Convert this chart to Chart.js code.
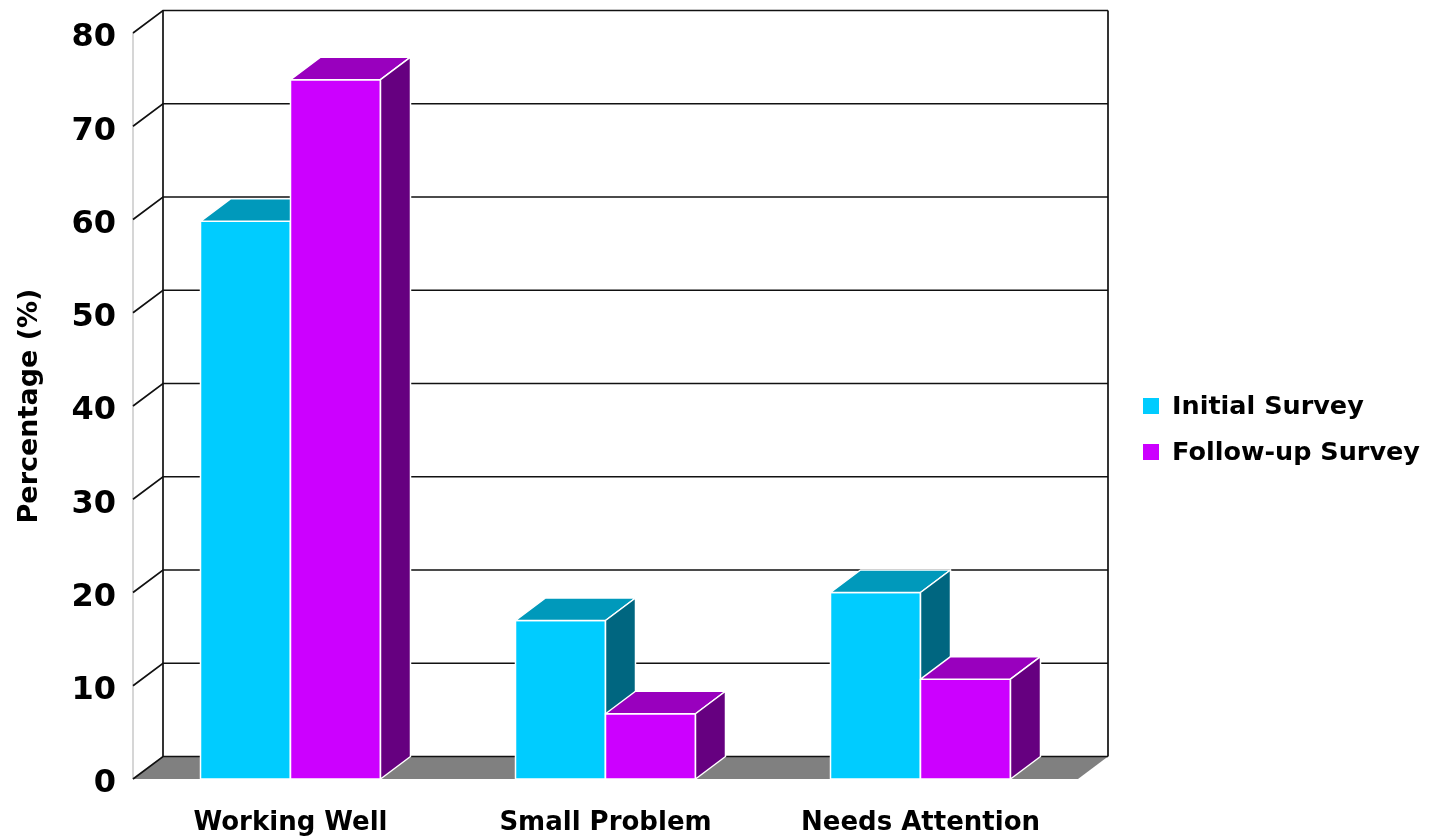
<!DOCTYPE html>
<html>
<head>
<meta charset="utf-8">
<script src="https://cdn.jsdelivr.net/npm/chart.js@4/dist/chart.umd.min.js"></script>
<style>
html,body{margin:0;padding:0;background:#ffffff;}
#wrap{width:1448px;height:838px;position:relative;}
</style>
</head>
<body>
<div id="wrap"><canvas id="c"></canvas></div>
<script>
// ---- data ----
const categories = ['Working Well', 'Small Problem', 'Needs Attention'];
const initialSurvey = [59.8, 17, 20];
const followUpSurvey = [75, 7, 10.7];
const seriesNames = ['Initial Survey', 'Follow-up Survey'];
const yMin = 0, yMax = 80, yStep = 10;
const yTitle = 'Percentage (%)';

// ---- styles ----
const DX = 30, DY = 22.5;
const FONT = '"DejaVu Sans", "Liberation Sans", sans-serif';
const frontColors = ['#00CCFF', '#CC00FF'];
const topColors = ['#0099BB', '#9900BE'];
const sideColors = ['#006680', '#660080'];

const threeD = {
  id: 'threeD',
  beforeDatasetsDraw(chart) {
    const ctx = chart.ctx;
    const {left, right, bottom} = chart.chartArea;
    const y = chart.scales.y;
    const topF = y.getPixelForValue(yMax);
    ctx.save();
    // floor
    ctx.fillStyle = '#808080';
    ctx.beginPath();
    ctx.moveTo(left, bottom);
    ctx.lineTo(right, bottom);
    ctx.lineTo(right + DX, bottom - DY);
    ctx.lineTo(left + DX, bottom - DY);
    ctx.closePath();
    ctx.fill();
    // front-left edge (light gray)
    ctx.strokeStyle = '#c8c8c8';
    ctx.lineWidth = 1.5;
    ctx.beginPath();
    ctx.moveTo(left, topF);
    ctx.lineTo(left, bottom);
    ctx.stroke();
    // gridlines on left wall and back wall
    ctx.strokeStyle = '#111111';
    ctx.lineWidth = 1.7;
    for (let v = yMin; v <= yMax; v += yStep) {
      const yf = y.getPixelForValue(v);
      ctx.beginPath();
      ctx.moveTo(left, yf);
      ctx.lineTo(left + DX, yf - DY);
      ctx.lineTo(right + DX, yf - DY);
      ctx.stroke();
    }
    // back wall verticals
    ctx.beginPath();
    ctx.moveTo(left + DX, topF - DY);
    ctx.lineTo(left + DX, bottom - DY);
    ctx.moveTo(right + DX, topF - DY);
    ctx.lineTo(right + DX, bottom - DY);
    ctx.stroke();
    ctx.restore();
  },
  afterDatasetsDraw(chart) {
    const ctx = chart.ctx;
    const metas = [chart.getDatasetMeta(0), chart.getDatasetMeta(1)];
    ctx.save();
    ctx.strokeStyle = '#ffffff';
    ctx.lineWidth = 1.5;
    ctx.lineJoin = 'round';
    for (let i = 0; i < categories.length; i++) {
      for (let d = 0; d < metas.length; d++) {
        const bar = metas[d].data[i];
        const p = bar.getProps(['x', 'y', 'base', 'width'], true);
        const x1 = p.x - p.width / 2, x2 = p.x + p.width / 2;
        const yt = p.y, yb = p.base;
        // front
        ctx.fillStyle = frontColors[d];
        ctx.beginPath();
        ctx.rect(x1, yt, x2 - x1, yb - yt);
        ctx.fill();
        ctx.stroke();
        // top
        ctx.fillStyle = topColors[d];
        ctx.beginPath();
        ctx.moveTo(x1, yt);
        ctx.lineTo(x2, yt);
        ctx.lineTo(x2 + DX, yt - DY);
        ctx.lineTo(x1 + DX, yt - DY);
        ctx.closePath();
        ctx.fill();
        ctx.stroke();
        // side
        ctx.fillStyle = sideColors[d];
        ctx.beginPath();
        ctx.moveTo(x2, yt);
        ctx.lineTo(x2 + DX, yt - DY);
        ctx.lineTo(x2 + DX, yb - DY);
        ctx.lineTo(x2, yb);
        ctx.closePath();
        ctx.fill();
        ctx.stroke();
      }
    }
    ctx.restore();
  },
  afterDraw(chart) {
    // legend
    const ctx = chart.ctx;
    ctx.save();
    ctx.font = 'bold 25.5px ' + FONT;
    ctx.textBaseline = 'middle';
    ctx.textAlign = 'left';
    const rows = [406, 452];
    for (let d = 0; d < seriesNames.length; d++) {
      ctx.fillStyle = frontColors[d];
      ctx.fillRect(1143, rows[d] - 8, 16, 16);
      ctx.fillStyle = '#000000';
      ctx.fillText(seriesNames[d], 1172, rows[d] + 1);
    }
    ctx.restore();
  }
};

new Chart(document.getElementById('c'), {
  type: 'bar',
  data: {
    labels: categories,
    datasets: [
      {label: seriesNames[0], data: initialSurvey, backgroundColor: frontColors[0], borderWidth: 0},
      {label: seriesNames[1], data: followUpSurvey, backgroundColor: frontColors[1], borderWidth: 0}
    ]
  },
  options: {
    responsive: true,
    maintainAspectRatio: false,
    animation: false,
    events: [],
    layout: {padding: {left: 0, top: 33, right: 370, bottom: 0}},
    datasets: {bar: {categoryPercentage: 0.5714, barPercentage: 1.0}},
    plugins: {legend: {display: false}, tooltip: {enabled: false}},
    scales: {
      x: {
        grid: {display: false},
        border: {display: false},
        ticks: {color: '#000', padding: 21, maxRotation: 0,
          font: {family: FONT, size: 26, weight: 'bold'}},
        afterFit(s) { s.height = 59; }
      },
      y: {
        min: yMin, max: yMax,
        grid: {display: false, drawTicks: false},
        border: {display: false},
        ticks: {stepSize: yStep, color: '#000', padding: 17, labelOffset: 5,
          font: {family: FONT, size: 32, weight: 'bold'}},
        title: {display: true, text: yTitle, color: '#000', padding: {top: 14, bottom: 0},
          font: {family: FONT, size: 27, weight: 'bold'}},
        afterFit(s) { s.width = 133; s.paddingTop = 0; s.paddingBottom = 0; }
      }
    }
  },
  plugins: [threeD]
});
</script>
</body>
</html>
